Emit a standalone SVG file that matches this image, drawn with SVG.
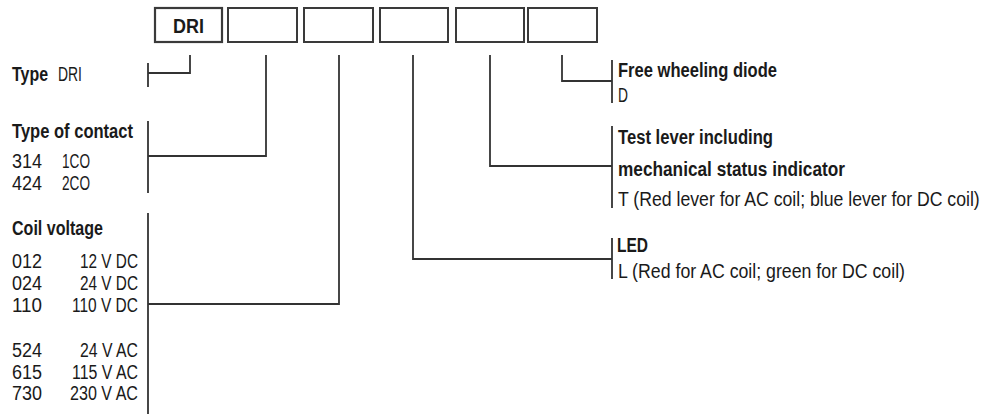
<svg xmlns="http://www.w3.org/2000/svg" width="985" height="414" viewBox="0 0 985 414">
<style>
.box{fill:#fff;stroke:#3a3a3a;stroke-width:2}
.ln{fill:none;stroke:#333;stroke-width:1.8}
text{font-family:"Liberation Sans",Arial,sans-serif;font-size:20px;fill:#1a1a1a}
.b{font-weight:bold}
</style>
<rect width="985" height="414" fill="#fff"/>
<g id="code">
<g id="box1"><rect class="box" x="155" y="8" width="67" height="34" style="stroke-width:2.2"/><text class="b" x="173" y="33" style="font-size:21px" textLength="31" lengthAdjust="spacingAndGlyphs">DRI</text></g>
<g id="box2"><rect class="box" x="228" y="8" width="69" height="34"/></g>
<g id="box3"><rect class="box" x="304" y="8" width="69" height="34"/></g>
<g id="box4"><rect class="box" x="380" y="8" width="68" height="34"/></g>
<g id="box5"><rect class="box" x="456" y="8" width="68" height="34"/></g>
<g id="box6"><rect class="box" x="528" y="8" width="69" height="34"/></g>
</g>
<g id="connectors">
<path class="ln" d="M190 55V73H148"/>
<path class="ln" d="M266 55V156H148"/>
<path class="ln" d="M339 55V304H148"/>
<path class="ln" d="M413 55V259H612"/>
<path class="ln" d="M490 55V166H612"/>
<path class="ln" d="M562 55V81H612"/>
<path class="ln" d="M148 63V87M148 121V193M148 213V414M612 60V103M612 126V208M612 238V279"/>
</g>
<g id="type">
<text class="b" x="12" y="81" textLength="36" lengthAdjust="spacingAndGlyphs">Type</text>
<text x="58" y="81" textLength="24" lengthAdjust="spacingAndGlyphs">DRI</text>
</g>
<g id="contact">
<text class="b" x="12" y="138" textLength="121" lengthAdjust="spacingAndGlyphs">Type of contact</text>
<text x="12" y="168" textLength="30" lengthAdjust="spacingAndGlyphs">314</text>
<text x="62" y="168" textLength="28" lengthAdjust="spacingAndGlyphs">1CO</text>
<text x="12" y="190" textLength="30" lengthAdjust="spacingAndGlyphs">424</text>
<text x="62" y="190" textLength="28" lengthAdjust="spacingAndGlyphs">2CO</text>
</g>
<g id="voltage">
<text class="b" x="12" y="235" textLength="91" lengthAdjust="spacingAndGlyphs">Coil voltage</text>
<text x="12" y="268" textLength="30" lengthAdjust="spacingAndGlyphs">012</text>
<text x="80" y="268" textLength="58" lengthAdjust="spacingAndGlyphs">12 V DC</text>
<text x="12" y="290" textLength="30" lengthAdjust="spacingAndGlyphs">024</text>
<text x="80" y="290" textLength="58" lengthAdjust="spacingAndGlyphs">24 V DC</text>
<text x="12" y="312" textLength="30" lengthAdjust="spacingAndGlyphs">110</text>
<text x="72" y="312" textLength="66" lengthAdjust="spacingAndGlyphs">110 V DC</text>
<text x="12" y="357" textLength="30" lengthAdjust="spacingAndGlyphs">524</text>
<text x="80" y="357" textLength="58" lengthAdjust="spacingAndGlyphs">24 V AC</text>
<text x="12" y="379" textLength="30" lengthAdjust="spacingAndGlyphs">615</text>
<text x="72" y="379" textLength="66" lengthAdjust="spacingAndGlyphs">115 V AC</text>
<text x="12" y="400" textLength="30" lengthAdjust="spacingAndGlyphs">730</text>
<text x="70" y="400" textLength="68" lengthAdjust="spacingAndGlyphs">230 V AC</text>
</g>
<g id="diode">
<text class="b" x="618" y="77" textLength="159" lengthAdjust="spacingAndGlyphs">Free wheeling diode</text>
<text x="618" y="102" textLength="10" lengthAdjust="spacingAndGlyphs">D</text>
</g>
<g id="lever">
<text class="b" x="618" y="144" textLength="155" lengthAdjust="spacingAndGlyphs">Test lever including</text>
<text class="b" x="618" y="176" textLength="227" lengthAdjust="spacingAndGlyphs">mechanical status indicator</text>
<text transform="translate(618 206) scale(0.883 1)" x="0" y="0">T (Red lever for AC coil; blue lever for DC coil)</text>
</g>
<g id="led">
<text class="b" x="617" y="252" textLength="31" lengthAdjust="spacingAndGlyphs">LED</text>
<text x="618" y="278" textLength="287" lengthAdjust="spacingAndGlyphs">L (Red for AC coil; green for DC coil)</text>
</g>
</svg>
